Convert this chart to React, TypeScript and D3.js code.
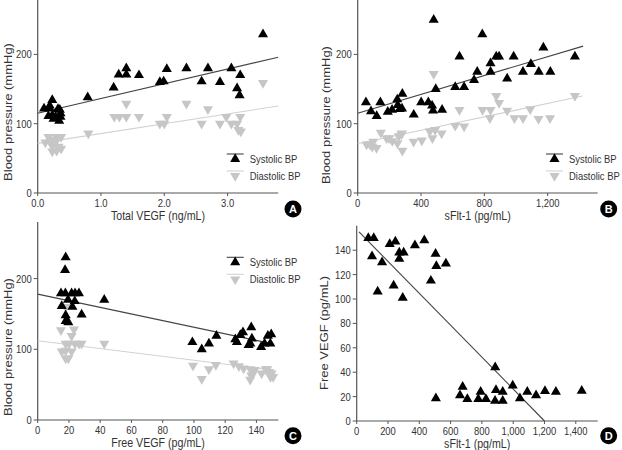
import React from 'react';
import * as d3 from 'd3';

// ---------- DATA ----------
const aSystolic: [number, number][] = [
  [0.1, 122], [0.19, 126], [0.23, 134], [0.19, 122], [0.17, 111], [0.23, 112], [0.25, 107],
  [0.28, 110], [0.32, 121], [0.35, 120], [0.36, 115], [0.34, 104], [0.36, 110],
  [0.79, 138], [1.2, 152], [1.28, 171], [1.4, 180], [1.4, 171], [1.6, 170], [1.93, 160],
  [1.99, 161], [2.04, 179], [2.35, 180], [2.59, 161], [2.69, 180], [2.88, 160], [3.06, 180],
  [3.2, 170], [3.15, 151], [3.19, 141], [3.56, 229],
];
const aDiastolic: [number, number][] = [
  [0.12, 73], [0.17, 81], [0.2, 74], [0.23, 68], [0.24, 77], [0.28, 73], [0.23, 60], [0.3, 61],
  [0.33, 67], [0.37, 64], [0.37, 81], [0.3, 81], [0.8, 86], [1.21, 110], [1.29, 110], [1.4, 110],
  [1.4, 129], [1.6, 110], [1.93, 100], [2.0, 100], [2.04, 110], [2.35, 129], [2.59, 100],
  [2.69, 121], [2.88, 100], [2.98, 110], [3.06, 100], [3.15, 100], [3.17, 91], [3.2, 110],
  [3.21, 89], [3.56, 159],
];
const aSysFit = [0, 115, 3.8, 196];
const aDiaFit = [0, 71.6, 3.8, 125.5];

const bSystolic: [number, number][] = [
  [52, 131], [84, 118], [120, 111], [143, 131], [190, 117], [217, 120], [250, 135], [253, 127],
  [265, 121], [280, 122], [282, 143], [354, 113], [401, 131], [446, 131], [470, 126], [476, 119],
  [480, 250], [493, 150], [533, 120], [616, 153], [643, 197], [672, 153], [735, 163], [755, 175],
  [787, 229], [839, 187], [839, 175], [875, 197], [893, 197], [944, 165], [985, 197], [1044, 175],
  [1094, 186], [1144, 175], [1173, 210], [1217, 175], [1372, 197],
];
const bDiastolic: [number, number][] = [
  [56, 70], [77, 70], [98, 74], [92, 67], [119, 65], [146, 87], [182, 79], [198, 79], [219, 75],
  [251, 72], [259, 82], [280, 86], [276, 85], [282, 61], [353, 74], [405, 76], [455, 89], [472, 79],
  [480, 172], [489, 91], [530, 86], [616, 97], [643, 120], [672, 96], [789, 120], [835, 108],
  [839, 120], [875, 140], [893, 130], [944, 119], [990, 108], [1044, 108], [1090, 121],
  [1142, 107], [1215, 108], [1372, 140],
];
const bSysFit = [0, 115, 1424, 212];
const bDiaFit = [0, 71, 1420, 140];

const cSystolic: [number, number][] = [
  [17.9, 230], [17.5, 212], [14.9, 179], [17.7, 179], [21.7, 179], [23.9, 179], [26.4, 179],
  [15.4, 161], [19.4, 170], [22.2, 160], [23.7, 168], [17.9, 148], [17.9, 140], [19.6, 138],
  [28.1, 149], [42.6, 170], [99, 110], [105, 100], [109.6, 108], [114.4, 119], [126.5, 114],
  [127.5, 110], [129.7, 120], [131.4, 124], [135, 106], [136.1, 108], [136.7, 131], [137.1, 115],
  [143, 103], [145.2, 108], [148.9, 108], [147.3, 119], [149.5, 121],
];
const cDiastolic: [number, number][] = [
  [14.9, 127], [17.9, 160], [23.2, 128], [21.7, 119], [15.4, 97], [17.9, 98], [21.7, 97],
  [17.9, 108], [20, 108], [23.9, 108], [26.4, 108], [28.1, 108], [17.9, 87], [19.6, 87],
  [42.6, 108], [99.4, 77], [105, 58], [109.6, 72], [114, 78], [125.4, 80], [128.8, 76],
  [131.8, 73], [136.1, 72], [136.7, 63], [136, 57], [137.9, 66], [143.3, 66], [145.9, 72],
  [146.9, 72], [148.2, 68], [149.7, 66], [150.7, 61], [149, 61], [139, 71],
];
const cSysFit = [0, 178, 149.7, 108];
const cDiaFit = [0, 112, 150.7, 70.6];

const dPoints: [number, number][] = [
  [74, 150], [109, 150], [98, 135], [162, 130], [134, 106], [211, 145], [247, 147], [272, 138],
  [300, 138], [272, 133], [236, 111], [294, 101], [372, 144], [432, 148], [504, 137], [509, 127],
  [474, 115], [570, 129], [506, 18.6], [660, 21], [677, 28], [707, 18], [777, 18], [792, 24],
  [826, 18], [885, 44], [890, 25.4], [884, 16.6], [933, 16.6], [933, 24], [997, 29], [1043, 18.6],
  [1090, 24], [1146, 21], [1203, 24.6], [1273, 24], [1438, 24.8],
];
const dFit = [15, 155, 1200, 0];

const bpTicks = [0, 100, 200];
const aXTicks = [0, 1, 2, 3];
const bXTicks = [0, 400, 800, 1200];
const cXTicks = [0, 20, 40, 60, 80, 100, 120, 140];
const dXTicks = [0, 200, 400, 600, 800, 1000, 1200, 1400];
const dYTicks = [0, 20, 40, 60, 80, 100, 120, 140];

// ---------- STYLE ----------
const FONT = "'Liberation Sans', Arial, sans-serif";
const AXIS = '#555';
const TXT = '#333';
const BLACK = '#000';
const GRAY = '#c6c6c6';
const SYS_LINE = '#444';
const DIA_LINE = '#d2d2d2';
const SQ = 0.82; // horizontal squeeze of the original figure's text

type Series = { pts: [number, number][]; inverted: boolean; color: string; fit: number[]; lineColor: string };

type PanelProps = {
  left: number; bottom: number; width: number; top: number;
  xMax: number; yMax: number;
  xTicks: number[]; yTicks: number[];
  xFmt: (v: number) => string;
  xTitle: string; yTitle: string; yTitleX: number; yTitleY: number;
  series: Series[];
  legend?: { x: number; y: number };
  letter: string; letterX: number; letterY: number;
};

const upTri = d3.symbol().type(d3.symbolTriangle).size(44)()!;

function T({ x, y, anchor, size, children, fill = TXT, weight }: any) {
  return (
    <text transform={`translate(${x},${y}) scale(${SQ},1)`} textAnchor={anchor || 'start'} fontSize={size}
      fill={fill} fontFamily={FONT} fontWeight={weight}>{children}</text>
  );
}

function Marker({ x, y, inverted, color }: { x: number; y: number; inverted: boolean; color: string }) {
  return (
    <path d={upTri} fill={color}
      transform={`translate(${x},${y})${inverted ? ' rotate(180)' : ''}`} />
  );
}

function Panel(p: PanelProps) {
  const xs = d3.scaleLinear().domain([0, p.xMax]).range([p.left, p.left + p.width]);
  const ys = d3.scaleLinear().domain([0, p.yMax]).range([p.bottom, p.top]);
  const fmtY = d3.format(',');
  return (
    <g>
      {/* axes */}
      <line x1={p.left} x2={p.left} y1={p.top} y2={p.bottom} stroke={AXIS} strokeWidth={1.2} />
      <line x1={p.left} x2={p.left + p.width} y1={p.bottom} y2={p.bottom} stroke={AXIS} strokeWidth={1.2} />
      {p.yTicks.map((t) => (
        <g key={'y' + t}>
          <line x1={p.left - 4} x2={p.left} y1={ys(t)} y2={ys(t)} stroke={AXIS} />
          <T x={p.left - 6} y={ys(t) + 4} anchor="end" size={11.5}>{fmtY(t)}</T>
        </g>
      ))}
      {p.xTicks.map((t) => (
        <g key={'x' + t}>
          <line x1={xs(t)} x2={xs(t)} y1={p.bottom} y2={p.bottom + 3} stroke={AXIS} />
          <T x={xs(t)} y={p.bottom + 14} anchor="middle" size={11.5}>{p.xFmt(t)}</T>
        </g>
      ))}
      <T x={xs(p.xMax / 2)} y={p.bottom + 27} anchor="middle" size={13}>{p.xTitle}</T>
      <text transform={`translate(${p.yTitleX},${p.yTitleY}) rotate(-90) scale(1,${SQ})`} textAnchor="middle"
        fontSize={13} fill={TXT} fontFamily={FONT}>{p.yTitle}</text>
      {/* fit lines */}
      {p.series.map((s, i) => (
        <line key={'f' + i} x1={xs(s.fit[0])} y1={ys(s.fit[1])} x2={xs(s.fit[2])} y2={ys(s.fit[3])}
          stroke={s.lineColor} strokeWidth={1.1} />
      ))}
      {/* points: diastolic first, then systolic on top */}
      {[...p.series].reverse().map((s, i) => (
        <g key={'s' + i}>
          {s.pts.map((d, j) => (
            <Marker key={j} x={xs(d[0])} y={ys(d[1])} inverted={s.inverted} color={s.color} />
          ))}
        </g>
      ))}
      {p.legend && (
        <g>
          {p.series.map((s, i) => (
            <g key={'l' + i}>
              <line x1={p.legend!.x} x2={p.legend!.x + 17} y1={p.legend!.y + i * 17} y2={p.legend!.y + i * 17}
                stroke={s.lineColor} strokeWidth={1.1} />
              <Marker x={p.legend!.x + 8.5} y={p.legend!.y + i * 17 + 5} inverted={s.inverted} color={s.color} />
              <T x={p.legend!.x + 23} y={p.legend!.y + i * 17 + 9} size={11.5}>
                {i === 0 ? 'Systolic BP' : 'Diastolic BP'}
              </T>
            </g>
          ))}
        </g>
      )}
      <circle cx={p.letterX} cy={p.letterY} r={8.5} fill={BLACK} />
      <text x={p.letterX} y={p.letterY + 4} textAnchor="middle" fontSize={11} fontWeight="bold" fill="#fff" fontFamily={FONT}>{p.letter}</text>
    </g>
  );
}

const bp = (sys: [number, number][], dia: [number, number][], sf: number[], df: number[]): Series[] => [
  { pts: sys, inverted: false, color: BLACK, fit: sf, lineColor: SYS_LINE },
  { pts: dia, inverted: true, color: GRAY, fit: df, lineColor: DIA_LINE },
];

export default function App() {
  return (
    <svg width={622} height={450} style={{ position: 'absolute', left: 0, top: 0, background: '#fff' }}>
      <Panel left={37.7} bottom={193} width={240.5} top={-1} xMax={3.8} yMax={280}
        xTicks={aXTicks} yTicks={bpTicks} xFmt={d3.format('.1f')}
        xTitle="Total VEGF (ng/mL)" yTitle="Blood pressure (mmHg)" yTitleX={12} yTitleY={112}
        series={bp(aSystolic, aDiastolic, aSysFit, aDiaFit)} legend={{ x: 226.7, y: 154 }}
        letter="A" letterX={293} letterY={209} />
      <Panel left={357.7} bottom={193} width={240} top={-1} xMax={1516} yMax={280}
        xTicks={bXTicks} yTicks={bpTicks} xFmt={d3.format(',')}
        xTitle="sFlt-1 (pg/mL)" yTitle="Blood pressure (mmHg)" yTitleX={330} yTitleY={115}
        series={bp(bSystolic, bDiastolic, bSysFit, bDiaFit)} legend={{ x: 546, y: 154 }}
        letter="B" letterX={608.7} letterY={209} />
      <Panel left={37.7} bottom={420} width={240.6} top={222} xMax={154} yMax={280}
        xTicks={cXTicks} yTicks={bpTicks} xFmt={d3.format(',')}
        xTitle="Free VEGF (pg/mL)" yTitle="Blood pressure (mmHg)" yTitleX={12} yTitleY={347}
        series={bp(cSystolic, cDiastolic, cSysFit, cDiaFit)} legend={{ x: 226.7, y: 257.3 }}
        letter="C" letterX={293} letterY={435.7} />
      <Panel left={356.7} bottom={421} width={241} top={225.8} xMax={1540} yMax={160}
        xTicks={dXTicks} yTicks={dYTicks} xFmt={d3.format(',')}
        xTitle="sFlt-1 (pg/mL)" yTitle="Free VEGF (pg/mL)" yTitleX={328} yTitleY={333}
        series={[{ pts: dPoints, inverted: false, color: BLACK, fit: dFit, lineColor: SYS_LINE }]}
        letter="D" letterX={608.7} letterY={435.7} />
    </svg>
  );
}
